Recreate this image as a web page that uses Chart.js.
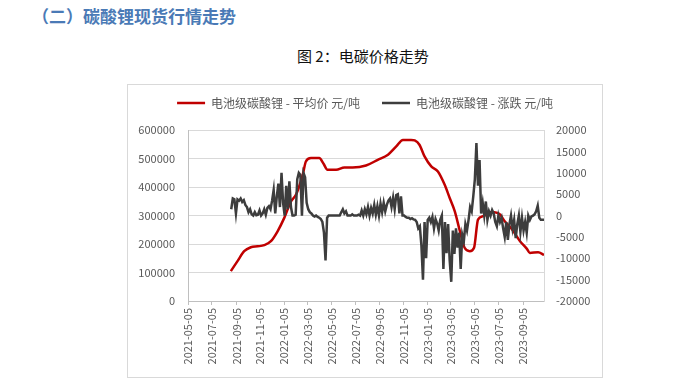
<!DOCTYPE html>
<html>
<head>
<meta charset="utf-8">
<script src="https://cdn.jsdelivr.net/npm/chart.js@4"></script>
<style>
    body { margin: 0; background: #fff; width: 678px; height: 390px; position: relative; overflow: hidden;
           font-family: "Noto Sans CJK SC", "Noto Sans", sans-serif; }
    #section-title { position: absolute; left: 32px; top: 3px; font-size: 17px; font-weight: bold; color: #4a7ab6; }
    #fig-title { position: absolute; left: 297px; top: 45px; font-size: 15px; color: #111; }
    #chart-box { position: absolute; left: 127px; top: 84px; width: 476px; height: 294px;
                 box-sizing: border-box; border: 1px solid #d9d9d9; }
    #chart-box canvas { display: block; }
</style>
</head>
<body>
<div id="section-title">（二）碳酸锂现货行情走势</div>
<div id="fig-title">图 2：电碳价格走势</div>
<div id="chart-box"><canvas id="priceChart" width="474" height="292"></canvas></div>

<script>
// x axis tick labels (every two months)
const xTickLabels = ['2021-05-05', '2021-07-05', '2021-09-05', '2021-11-05', '2022-01-05',
    '2022-03-05', '2022-05-05', '2022-07-05', '2022-09-05', '2022-11-05', '2023-01-05',
    '2023-03-05', '2023-05-05', '2023-07-05', '2023-09-05'];
const xMinDate = '2021-05-05';
const xMaxDate = '2023-10-28';

// 电池级碳酸锂 - 平均价 (元/吨), left axis
const priceDates = ['2021-08-22', '2021-09-08', '2021-09-25', '2021-10-12', '2021-10-29',
    '2021-11-15', '2021-12-02', '2021-12-19', '2022-01-05', '2022-01-22', '2022-02-04',
    '2022-02-21', '2022-03-01', '2022-03-14', '2022-04-04', '2022-04-15', '2022-04-25',
    '2022-05-17', '2022-06-07', '2022-06-28', '2022-08-01', '2022-08-31', '2022-09-26',
    '2022-10-17', '2022-11-03', '2022-11-24', '2022-12-03', '2022-12-15', '2022-12-28',
    '2023-01-14', '2023-01-31', '2023-02-17', '2023-03-02', '2023-03-15', '2023-03-28',
    '2023-04-09', '2023-04-22', '2023-05-03', '2023-05-13', '2023-05-26', '2023-06-16',
    '2023-07-08', '2023-07-20', '2023-08-06', '2023-08-28', '2023-09-14', '2023-09-22',
    '2023-10-13', '2023-10-28'];
const priceValues = [105000, 140000, 175000, 189000, 192000,
    196000, 210000, 245000, 292000, 350000, 374000,
    444000, 490000, 502000, 502000, 482000, 461000,
    461000, 469000, 469000, 476000, 496000, 514000,
    543000, 566000, 566000, 564000, 549000, 508000,
    473000, 455000, 409000, 362000, 315000, 245000,
    187000, 175000, 187000, 286000, 298000, 313000,
    304000, 280000, 255000, 210000, 184000, 169000,
    171000, 162000];

// 电池级碳酸锂 - 涨跌 (元/吨), right axis, one reading every 4 days
const changeStartDate = '2021-08-23';
const changeStepDays = 4;
const changeValues = [
    1500, 4000, 3800, 500, 3800, 3500, 4000, 3200, 3600, 2500,
    2000, 800, 1500, 300, 0, 800, 100, 200, 1200, 0,
    500, 1500, 200, 1800, 2200, 1500, 3500, 6000, 500, 4500,
    7500, 2000, 10000, 3000, 0, 7000, 1500, 8000, 2000, 0,
    0, 200, 8500, 10000, 9500, 0, 10000, 9000, 3000, 1500,
    800, 500, 0, -200, 0, -300, -500, -800, -1500, -4000,
    -10500, -500, 0, 0, 0, 0, 0, 0, 0, 0,
    800, 1500, 500, 1000, 0, 0, 0, 300, 0, 0,
    0, 200, 0, 1200, 0, 1500, 300, 2000, 0, 1800,
    500, 2500, 200, 2200, 0, 2800, 800, 3000, 1000, 2500,
    3500, 4000, 2000, 4200, 1500, 4800, 5000, 500, 4500, 0,
    0, -300, -500, -500, -800, -600, -900, -1000, -1500, -3000,
    -2500, -7000, -15000, -1500, -10000, -1000, -500, -1500, -300, -3000,
    -800, -1800, -3500, -1000, 0, -12500, -1500, -8800, -2000, -10500,
    -15500, -3500, -9000, -3000, -7500, -4000, -12500, -4500, -6000, -2000,
    -3500, -1000, 2000, 1000, 4500, 8500, 17000, 7000, 13000, 500,
    3000, 0, 3300, -1000, 1000, 0, 1300, 500, -1500, -2500,
    0, -1500, -500, -3000, -5000, -1500, -5700, -2000, 0, -3000,
    -1000, -5300, -2000, 0, -3800, -500, -3500, -1500, -4000, 0,
    -1000, -200, 0, 300, 1000, 2300, -500, -1000, -1000, -1000
];

function toDay(s) {
    return Date.parse(s + 'T00:00:00Z') / 86400000;
}

function fromDay(d) {
    return new Date(Math.round(d) * 86400000).toISOString().slice(0, 10);
}

const pricePoints = priceDates.map((d, i) => ({ x: toDay(d), y: priceValues[i] }));
const changePoints = changeValues.map((v, i) => ({ x: toDay(changeStartDate) + i * changeStepDays, y: v }));

const cjkFont = '"Noto Sans CJK SC", "Noto Sans", sans-serif';
const tickFont = { family: cjkFont, size: 11 };
const tickColor = '#595959';

const ctx = document.getElementById('priceChart').getContext('2d');
new Chart(ctx, {
    type: 'line',
    data: {
        datasets: [{
            label: '电池级碳酸锂 - 平均价 元/吨',
            data: pricePoints,
            yAxisID: 'y',
            borderColor: '#c00000',
            backgroundColor: '#c00000',
            borderWidth: 2.5,
            pointRadius: 0,
            cubicInterpolationMode: 'monotone',
            order: 1
        }, {
            label: '电池级碳酸锂 - 涨跌 元/吨',
            data: changePoints,
            yAxisID: 'y1',
            borderColor: '#3d3d3d',
            backgroundColor: '#3d3d3d',
            borderWidth: 2.5,
            pointRadius: 0,
            tension: 0,
            order: 0
        }]
    },
    options: {
        responsive: false,
        animation: false,
        layout: { padding: { top: -10, left: 0, right: 0, bottom: 0 } },
        plugins: {
            tooltip: { enabled: false },
            legend: {
                position: 'top',
                weight: 1000,
                labels: {
                    usePointStyle: true,
                    pointStyle: 'line',
                    pointStyleWidth: 28,
                    color: '#595959',
                    font: { family: cjkFont, size: 12 },
                    padding: 22,
                    sort: (a, b) => a.datasetIndex - b.datasetIndex
                }
            },
            // empty spacer between legend and plot area
            title: {
                display: true,
                text: '',
                position: 'top',
                weight: 500,
                font: { size: 1 },
                padding: { top: 0, bottom: 10 }
            }
        },
        scales: {
            x: {
                type: 'linear',
                min: toDay(xMinDate),
                max: toDay(xMaxDate),
                afterBuildTicks: scale => {
                    scale.ticks = xTickLabels.map(s => ({ value: toDay(s) }));
                },
                afterFit: scale => { scale.height = 76; },
                ticks: {
                    autoSkip: false,
                    minRotation: 90,
                    maxRotation: 90,
                    color: tickColor,
                    font: tickFont,
                    padding: 3,
                    callback: value => fromDay(value)
                },
                grid: { drawOnChartArea: false, drawTicks: true, tickLength: 4, color: '#bfbfbf' },
                border: { color: '#bfbfbf' }
            },
            y: {
                position: 'left',
                min: 0,
                max: 600000,
                afterFit: scale => { scale.width = 60; },
                ticks: { stepSize: 100000, color: tickColor, font: tickFont, padding: 13,
                         callback: value => String(value) },
                grid: { color: '#d9d9d9', drawTicks: false },
                border: { color: '#bfbfbf' }
            },
            y1: {
                position: 'right',
                min: -20000,
                max: 20000,
                afterFit: scale => { scale.width = 58; },
                ticks: { stepSize: 5000, color: tickColor, font: tickFont, padding: 12,
                         callback: value => String(value) },
                grid: { drawOnChartArea: false, drawTicks: false },
                border: { color: '#d9d9d9' }
            }
        }
    }
});
</script>
</body>
</html>
